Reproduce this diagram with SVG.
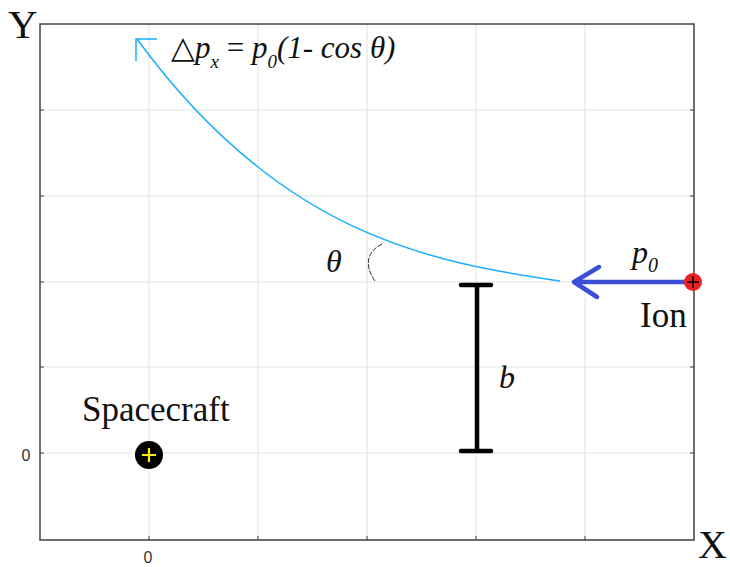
<svg xmlns="http://www.w3.org/2000/svg" width="730" height="567" viewBox="0 0 730 567">
<style>
.grid{stroke:#e3e3e3;stroke-width:1;fill:none}
.axis{stroke:#404040;stroke-width:1.5;fill:none}
.tick{stroke:#404040;stroke-width:1}
.serif{font-family:"Liberation Serif","Times New Roman",serif;fill:#111}
.it{font-style:italic}
.num{font-family:"Liberation Sans",Arial,sans-serif;font-size:16px;fill:#333}
</style>
<rect width="730" height="567" fill="#fff"/>
<g id="grid">
<path class="grid" d="M149,24V540M258,24V540M367,24V540M476,24V540M585,24V540M40,110H694M40,196H694M40,282H694M40,367H694M40,453H694"/>
</g>
<g id="axes">
<path class="axis" d="M40,24H694V540H40Z"/>
<path class="tick" d="M40,110h4M40,196h4M40,282h4M40,367h4M40,453h4M149,540v-4M258,540v-4M367,540v-4M476,540v-4M585,540v-4M694,110h-4M694,196h-4M694,367h-4M694,453h-4"/>
<text class="num" x="26" y="461" text-anchor="middle">0</text>
<text class="num" x="148" y="563" text-anchor="middle">0</text>
<text class="serif" x="8" y="38" font-size="41">Y</text>
<text class="serif" x="698" y="558" font-size="40">X</text>
</g>
<g id="connectors">
<path d="M560,281 C430,262 280,235 137,39" fill="none" stroke="#1aaeff" stroke-width="1.5"/>
<path d="M157,39H136V61" fill="none" stroke="#1aaeff" stroke-width="1.5"/>
<path d="M688,282H575M599,267L574,282L597,297" fill="none" stroke="#3b4fd6" stroke-width="4.5" stroke-linejoin="round" stroke-linecap="round"/>
<path d="M382,244 C370,250 362,262 375,281" fill="none" stroke="#222" stroke-width="1" stroke-dasharray="5,1.5"/>
</g>
<g id="formula">
<text class="serif it" x="171" y="58" font-size="31"><tspan font-style="normal">△</tspan><tspan>p</tspan><tspan dy="10" font-size="19">x</tspan><tspan dy="-10" font-style="normal"> = </tspan><tspan>p</tspan><tspan dy="10" font-size="19">0</tspan><tspan dy="-10">(1- cos θ)</tspan></text>
</g>
<g id="theta">
<text class="serif it" x="326" y="272" font-size="32">θ</text>
</g>
<g id="impact-parameter">
<path d="M477,285V451M461,285H491M461,451H491" stroke="#000" stroke-width="4.5" stroke-linecap="round" fill="none"/>
<text class="serif it" x="499" y="388" font-size="32">b</text>
</g>
<g id="ion">
<circle cx="693" cy="282" r="9" fill="#ee2222"/>
<path d="M687,282h12M693,276v12" stroke="#000" stroke-width="1.5"/>
<text class="serif it" x="632" y="263" font-size="32">p<tspan dy="9" font-size="20">0</tspan></text>
<text class="serif" x="640" y="327" font-size="35">Ion</text>
</g>
<g id="spacecraft">
<circle cx="149" cy="455" r="14" fill="#000"/>
<path d="M142,455h14M149,448v14" stroke="#ffee00" stroke-width="2.2"/>
<text class="serif" x="82" y="421" font-size="35">Spacecraft</text>
</g>
</svg>
